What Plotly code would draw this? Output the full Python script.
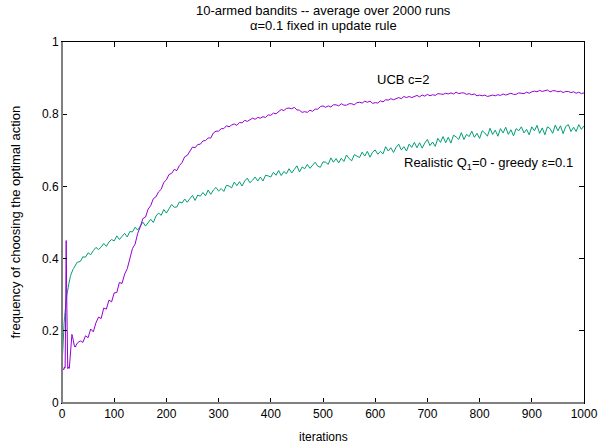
import plotly.graph_objects as go

iterations = list(range(0, 31)) + list(range(35, 1001, 5))

ucb_early = [0.10, 0.10, 0.095, 0.092, 0.094, 0.10, 0.098, 0.25, 0.45, 0.30,
             0.10, 0.095, 0.097, 0.10, 0.096, 0.12, 0.15, 0.175, 0.19, 0.19,
             0.185, 0.175, 0.165, 0.16, 0.156, 0.158, 0.155, 0.16, 0.163, 0.165,
             0.167]
ucb_rest = [
    0.172, 0.168, 0.186, 0.181, 0.205, 0.197, 0.222, 0.238, 0.234, 0.263,
    0.260, 0.285, 0.280, 0.305, 0.306, 0.334, 0.331, 0.357, 0.372, 0.397,
    0.428, 0.440, 0.470, 0.488, 0.511, 0.515, 0.537, 0.547, 0.566, 0.571,
    0.585, 0.592, 0.611, 0.618, 0.633, 0.636, 0.647, 0.644, 0.658, 0.666,
    0.682, 0.686, 0.699, 0.709, 0.707, 0.716, 0.717, 0.726, 0.727, 0.734,
    0.734, 0.748, 0.753, 0.753, 0.760, 0.760, 0.768, 0.765, 0.770, 0.773,
    0.769, 0.777, 0.776, 0.783, 0.780, 0.785, 0.789, 0.786, 0.791, 0.789,
    0.793, 0.791, 0.798, 0.797, 0.803, 0.801, 0.808, 0.813, 0.810, 0.816,
    0.817, 0.815, 0.819, 0.812, 0.811, 0.805, 0.807, 0.805, 0.811, 0.808,
    0.814, 0.814, 0.821, 0.823, 0.819, 0.823, 0.820, 0.826, 0.826, 0.823,
    0.829, 0.825, 0.825, 0.829, 0.829, 0.826, 0.832, 0.833, 0.831, 0.836,
    0.833, 0.836, 0.830, 0.832, 0.831, 0.837, 0.834, 0.840, 0.839, 0.843,
    0.840, 0.844, 0.846, 0.843, 0.849, 0.846, 0.849, 0.846, 0.850, 0.852,
    0.848, 0.853, 0.850, 0.855, 0.851, 0.854, 0.852, 0.857, 0.856, 0.855,
    0.858, 0.856, 0.859, 0.856, 0.861, 0.857, 0.859, 0.859, 0.855, 0.857,
    0.854, 0.856, 0.851, 0.853, 0.851, 0.853, 0.849, 0.852, 0.853, 0.851,
    0.854, 0.852, 0.856, 0.853, 0.856, 0.858, 0.855, 0.855, 0.859, 0.859,
    0.857, 0.861, 0.858, 0.862, 0.864, 0.862, 0.866, 0.863, 0.866, 0.867,
    0.862, 0.865, 0.865, 0.862, 0.864, 0.860, 0.863, 0.863, 0.860, 0.862,
    0.858, 0.861, 0.857, 0.859]
ucb_values = ucb_early + ucb_rest

greedy_early = [0.10, 0.14, 0.17, 0.20, 0.22, 0.24, 0.26, 0.27, 0.285, 0.295,
                0.305, 0.31, 0.32, 0.33, 0.34, 0.345, 0.35, 0.355, 0.36, 0.362,
                0.366, 0.37, 0.372, 0.375, 0.378, 0.38, 0.382, 0.384, 0.386, 0.39,
                0.39]
greedy_rest = [
    0.392, 0.405, 0.404, 0.416, 0.411, 0.422, 0.431, 0.425, 0.432, 0.442,
    0.434, 0.446, 0.453, 0.449, 0.463, 0.453, 0.461, 0.470, 0.460, 0.475,
    0.474, 0.487, 0.479, 0.491, 0.501, 0.490, 0.499, 0.509, 0.500, 0.518,
    0.526, 0.520, 0.536, 0.526, 0.538, 0.550, 0.542, 0.543, 0.557, 0.554,
    0.565, 0.556, 0.566, 0.575, 0.561, 0.576, 0.573, 0.583, 0.574, 0.590,
    0.578, 0.590, 0.597, 0.587, 0.594, 0.586, 0.603, 0.601, 0.596, 0.612,
    0.602, 0.613, 0.601, 0.615, 0.623, 0.610, 0.617, 0.626, 0.615, 0.626,
    0.615, 0.631, 0.629, 0.626, 0.639, 0.631, 0.644, 0.630, 0.641, 0.635,
    0.649, 0.637, 0.647, 0.657, 0.640, 0.654, 0.649, 0.661, 0.650, 0.658,
    0.667, 0.656, 0.653, 0.668, 0.667, 0.661, 0.679, 0.667, 0.677, 0.665,
    0.678, 0.669, 0.687, 0.677, 0.671, 0.688, 0.684, 0.680, 0.695, 0.684,
    0.697, 0.681, 0.695, 0.701, 0.689, 0.697, 0.690, 0.710, 0.698, 0.707,
    0.694, 0.708, 0.717, 0.701, 0.710, 0.698, 0.717, 0.708, 0.722, 0.707,
    0.721, 0.706, 0.720, 0.730, 0.713, 0.723, 0.711, 0.733, 0.722, 0.738,
    0.721, 0.736, 0.720, 0.742, 0.737, 0.730, 0.749, 0.730, 0.744, 0.738,
    0.753, 0.736, 0.747, 0.733, 0.754, 0.748, 0.739, 0.761, 0.744, 0.756,
    0.739, 0.760, 0.748, 0.764, 0.744, 0.757, 0.740, 0.760, 0.754, 0.765,
    0.748, 0.758, 0.743, 0.765, 0.754, 0.769, 0.747, 0.762, 0.743, 0.765,
    0.760, 0.747, 0.770, 0.754, 0.768, 0.746, 0.766, 0.771, 0.752, 0.764,
    0.752, 0.771, 0.758, 0.768]
greedy_values = greedy_early + greedy_rest

x_ticks = [0, 100, 200, 300, 400, 500, 600, 700, 800, 900, 1000]
y_ticks = [0, 0.2, 0.4, 0.6, 0.8, 1]
y_ticktext = ["0", "0.2", "0.4", "0.6", "0.8", "1"]

FONT = "Liberation Sans, Arial, sans-serif"
PURPLE = "#9400d3"
GREEN = "#009e73"

fig = go.Figure()
fig.add_trace(go.Scatter(x=iterations, y=greedy_values, mode="lines",
                         line=dict(color=GREEN, width=1), showlegend=False))
fig.add_trace(go.Scatter(x=iterations, y=ucb_values, mode="lines",
                         line=dict(color=PURPLE, width=1), showlegend=False))

def txt(size=12):
    return dict(family=FONT, size=size, color="black")

# titles
fig.add_annotation(x=0.5, y=(403 - 12) / 360, xref="paper", yref="paper",
                   text="10-armed bandits -- average over 2000 runs",
                   showarrow=False, xanchor="center", yanchor="middle", font=txt(13))
fig.add_annotation(x=0.5, y=(403 - 27) / 360, xref="paper", yref="paper",
                   text="α=0.1 fixed in update rule",
                   showarrow=False, xanchor="center", yanchor="middle", font=txt(13))
fig.add_annotation(x=0.5, y=(403 - 437) / 360, xref="paper", yref="paper",
                   text="iterations", showarrow=False,
                   xanchor="center", yanchor="middle", font=txt(12))
fig.add_annotation(x=(15 - 62) / 522, y=0.5, xref="paper", yref="paper",
                   text="frequency of choosing the optimal action", textangle=-90,
                   showarrow=False, xanchor="center", yanchor="middle", font=txt(13))

# series labels
fig.add_annotation(x=600, y=0.897, xref="x", yref="y", text="UCB c=2",
                   showarrow=False, xanchor="left", yanchor="middle", font=txt(13))
fig.add_annotation(x=651, y=0.664, xref="x", yref="y",
                   text="Realistic Q<sub>1</sub>=0 - greedy ε=0.1",
                   showarrow=False, xanchor="left", yanchor="middle", font=txt(13))

# left / bottom border drawn grey, as in the reference
fig.add_shape(type="line", xref="paper", yref="paper", x0=0, x1=0, y0=0, y1=1,
              line=dict(color="#808080", width=2), layer="above")
fig.add_shape(type="line", xref="paper", yref="paper", x0=0, x1=1, y0=0, y1=0,
              line=dict(color="#808080", width=2), layer="above")

axis_common = dict(showgrid=False, zeroline=False, showline=True, automargin=False,
                   linecolor="black", linewidth=1, mirror="ticks",
                   ticks="inside", ticklen=5, tickcolor="black", tickwidth=1,
                   tickfont=txt(12))

fig.update_layout(
    width=602, height=445,
    margin=dict(l=62, r=18, t=42, b=42, autoexpand=False),
    paper_bgcolor="white", plot_bgcolor="white",
    font=txt(12),
    hovermode=False,
    xaxis=dict(range=[0, 1000], tickvals=x_ticks, ticktext=[str(v) for v in x_ticks],
               **axis_common),
    yaxis=dict(range=[0, 1], tickvals=y_ticks, ticktext=y_ticktext, **axis_common),
)

fig.write_html("out.html", config={"displayModeBar": False},
               post_script="document.body.style.margin='0';document.body.style.overflow='hidden';")
